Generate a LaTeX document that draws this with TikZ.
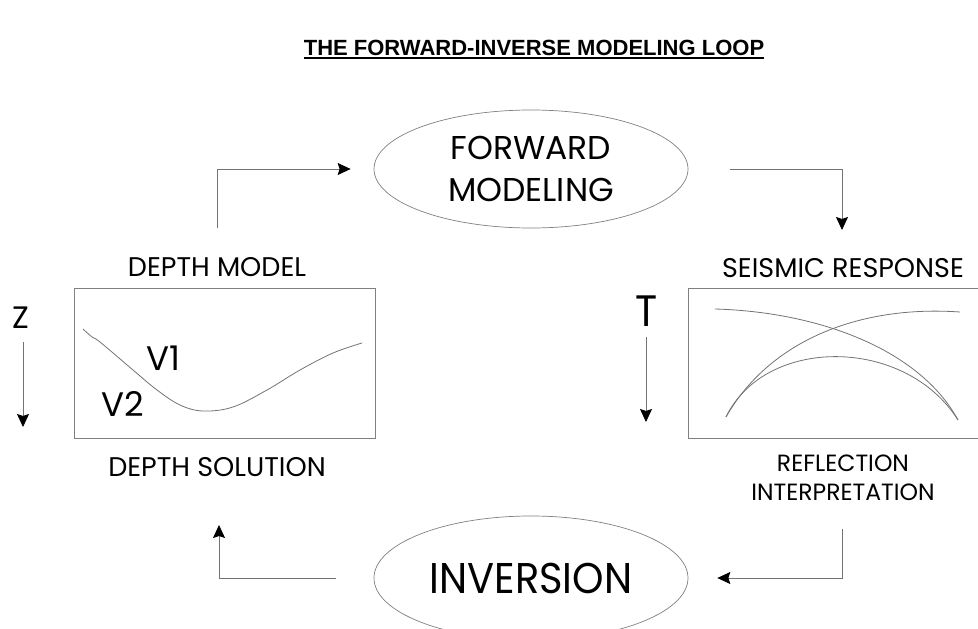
\documentclass[tikz,border=0pt]{standalone}
\usepackage{fontspec}
\setmainfont{Poppins}
\newfontfamily\narrowfont{Poppins}[FakeStretch=0.93]
\newfontfamily\titlefont{Liberation Sans}
\usetikzlibrary{shapes.geometric,arrows.meta}
\tikzset{
  ln/.style={draw=black!55, line width=0.8pt},
  arr/.style={ln, -{Stealth[length=13pt,width=12pt,inset=2pt,color=black]}},
  lbl/.style={inner sep=0pt, font=\fontsize{27}{30}\selectfont},
  oval/.style={ellipse, draw=black!50, line width=0.7pt, inner sep=0pt, align=center},
}
\begin{document}
\begin{tikzpicture}[x=1pt,y=-1pt]
\useasboundingbox (0,0) rectangle (978,629);
% title
\node[inner sep=0pt, anchor=base, font=\titlefont\bfseries\fontsize{22}{24}\selectfont] (title) at (534,55) {THE FORWARD-INVERSE MODELING LOOP};
\draw[black, line width=1.2pt] ([yshift=-3pt]title.base west) -- ([yshift=-3pt]title.base east);

% ellipses
\node[oval, minimum width=314pt, minimum height=118pt, font=\fontsize{33}{42}\selectfont] (fwd) at (531,169) {FORWARD\\MODELING};
\node[oval, minimum width=314pt, minimum height=124pt, font=\narrowfont\fontsize{43}{46}\selectfont] (inv) at (531,578) {INVERSION};

% labels
\node[lbl] (dm) at (217,267) {DEPTH MODEL};
\node[lbl] (ds) at (217,467) {DEPTH SOLUTION};
\node[lbl] (sr) at (843,268) {SEISMIC RESPONSE};
\node[lbl, font=\fontsize{23.5}{28}\selectfont] (rf) at (843,463) {REFLECTION};
\node[lbl, font=\fontsize{23.5}{28}\selectfont] (ri) at (843,492) {INTERPRETATION};

% left box
\node[draw=black!50, line width=0.8pt, minimum width=301pt, minimum height=150pt, inner sep=0pt] (lbox) at (224.5,363) {};
\draw[black!55, line width=0.8pt] plot[smooth, tension=0.6] coordinates {(83,329) (92,337) (100,342) (133,370) (157,390) (180,405) (203,411) (233,407) (267,390) (300,370) (333,353) (362,343)};
\node[inner sep=0pt, font=\fontsize{34}{36}\selectfont] (v1) at (163,358) {V1};
\node[inner sep=0pt, font=\fontsize{34}{36}\selectfont] (v2) at (123,404) {V2};
\node[inner sep=0pt, font=\fontsize{31}{34}\selectfont] (z) at (21,318) {Z};
\coordinate (zs) at (23,342);
\coordinate (ze) at (23,427);
\draw[arr] (zs) -- (ze);

% right box
\draw[draw=black!50, line width=0.8pt] (985,288) -- (688,288) -- (688,438) -- (985,438);
\draw[black!55, line width=0.8pt] (715,309) .. controls (820,312) and (920,350) .. (958,420);
\draw[black!55, line width=0.8pt] (726,417) .. controls (770,340) and (860,305) .. (960,312);
\draw[black!55, line width=0.8pt] (726,417) .. controls (765,336) and (905,336) .. (958,420);
\node[inner sep=0pt, font=\narrowfont\fontsize{44}{46}\selectfont] (t) at (647,311) {T};
\coordinate (ts) at (646,337);
\coordinate (te) at (646,422);
\draw[arr] (ts) -- (te);

% loop connectors
\coordinate (c1) at (217,228);
\coordinate (c2) at (842,230);
\coordinate (c3) at (842,529);
\coordinate (c4) at (219,525);
\draw[arr] (c1) |- ([xshift=-23pt]fwd.west);
\draw[arr] ([xshift=42pt]fwd.east) -| (c2);
\draw[arr] (c3) |- ([xshift=29pt]inv.east);
\draw[arr] ([xshift=-38pt]inv.west) -| (c4);
\end{tikzpicture}
\end{document}
